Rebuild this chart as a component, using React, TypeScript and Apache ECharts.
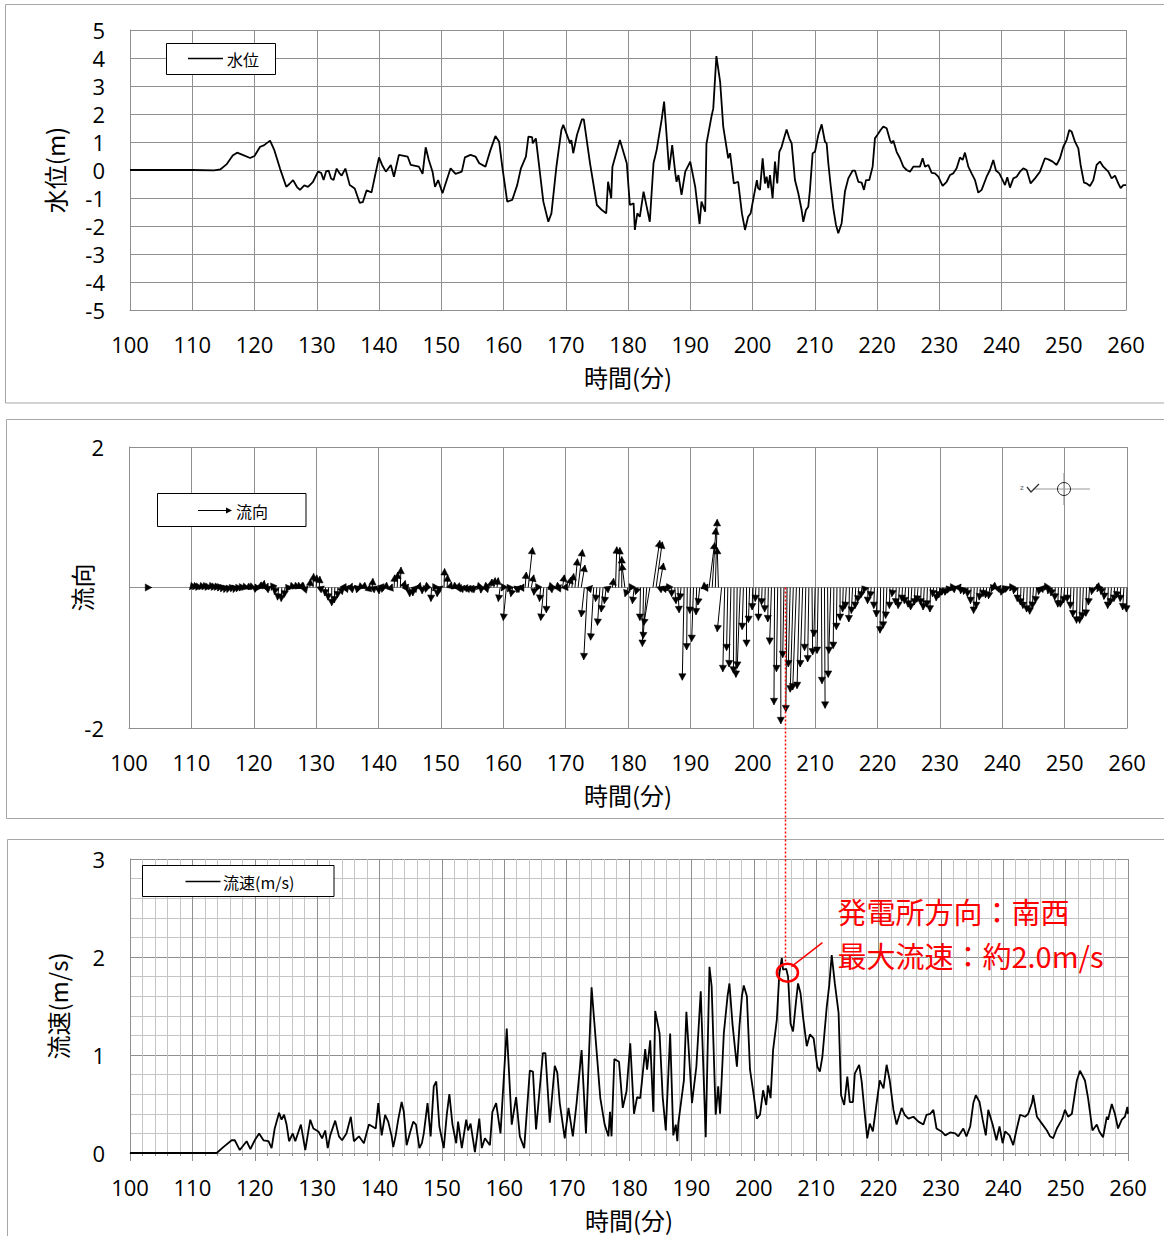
import React, { useEffect, useRef } from 'react';
import * as echarts from 'echarts';

// ---------- 水位 (water level) ----------
const levelTime = [
  100, 110, 113.5, 114.5, 115.5, 116.5, 117.2, 118, 119.3, 120, 120.9, 121.5, 122.5, 123.2, 124.1, 125.1, 125.6, 126.2, 126.8, 127.3,
  128, 128.6, 129.4, 130.2, 130.7, 131.1, 131.5, 131.9, 132.3, 132.7, 133.2, 133.6, 134, 134.6, 135.3, 136.1, 136.9, 137.4, 138, 138.8, 139.3,
  140, 140.5, 141.1, 141.9, 142.4, 143.2, 144.6, 145.1, 146.4, 147, 147.5, 148, 148.6, 149, 149.5, 150.2, 150.7, 151.5, 152.3, 153.3,
  153.8, 154.7, 155.5, 156.1, 157.1, 157.9, 158.7, 159.3, 159.8, 160.6, 161.4, 162.2, 162.8, 163.6, 164, 164.6, 164.7, 165.2, 166.4, 167.2,
  167.7, 168.5, 169.3, 169.6, 170.1, 170.7, 170.9, 171.2, 171.8, 172.6, 172.9, 173.9, 175, 175.8, 176.5, 176.8, 177.3, 177.5, 178.7, 179.8,
  180.3, 180.9, 181.1, 181.5, 181.9, 182.5, 183, 183.5, 184.1, 184.6, 185.4, 185.8, 186.1, 186.6, 187.1, 187.6, 187.8, 188.1, 188.6, 189.2,
  190, 190.8, 191.5, 191.8, 192.4, 192.6, 193.4, 193.7, 194.2, 194.8, 195.3, 196.1, 196.4, 197, 197.7, 198.3, 198.8, 199.3, 199.7, 200.7, 200.9,
  201.2, 201.63, 202.0, 202.27, 202.54, 202.81, 203.23, 203.61, 203.98, 204.31, 204.68, 205.06, 205.48, 205.91, 206.29, 206.82, 207.36, 207.89, 208.16, 208.59,
  208.96, 209.23, 209.66, 210.04, 210.57, 211.11, 211.64, 211.91, 212.18, 212.55, 212.98, 213.41, 213.78, 214.32, 214.85, 215.39, 216.09, 216.46, 217.0, 217.53,
  217.91, 218.23, 218.76, 219.3, 219.67, 220.05, 220.58, 221.01, 221.55, 222.08, 222.35, 222.62, 223.15, 223.69, 224.23, 224.76, 225.3, 225.83, 226.37, 226.9,
  227.33, 227.71, 228.24, 228.78, 229.31, 229.85, 230.54, 231.19, 231.72, 232.26, 232.79, 233.33, 233.76, 234.13, 234.67, 235.2, 235.74, 236.27, 236.81, 237.61,
  238.15, 238.68, 239.11, 239.65, 240.18, 240.56, 240.93, 241.36, 241.9, 242.43, 242.97, 243.5, 244.04, 244.68, 245.38, 246.18, 246.98, 247.52, 248.22, 248.86,
  249.39, 249.93, 250.46, 250.89, 251.27, 251.8, 252.34, 252.71, 253.25, 253.68, 254.21, 254.75, 255.28, 255.82, 256.35, 257.16, 257.69, 258.23, 258.76, 259.14,
  259.57, 260
];
const levelValue = [
  0, 0, -0.01, 0.02, 0.2, 0.52, 0.62, 0.55, 0.43, 0.5, 0.83, 0.88, 1.05, 0.7, 0.05, -0.6, -0.5, -0.36, -0.6, -0.71,
  -0.55, -0.6, -0.42, -0.06, -0.1, -0.36, -0.05, -0.02, -0.3, -0.36, 0.05, -0.1, -0.2, 0.05, -0.54, -0.66, -1.17, -1.15, -0.73, -0.8, -0.27,
  0.45, 0.18, -0.06, 0.18, -0.24, 0.54, 0.48, 0.18, 0.12, -0.14, 0.81, 0.36, -0.06, -0.6, -0.36, -0.83, -0.48, 0.06, -0.14, -0.06,
  0.45, 0.54, 0.48, 0.24, 0.12, 0.71, 1.21, 1.01, 0.12, -1.13, -1.07, -0.54, 0.06, 0.48, 1.19, 1.17, 0.95, 1.13, -1.13, -1.85,
  -1.55, 0.12, 1.43, 1.61, 1.31, 0.95, 1.07, 0.6, 1.25, 1.81, 1.81, 0.24, -1.25, -1.43, -1.55, -0.42, -1.01, 0.12, 1.07, 0.24,
  -1.25, -1.19, -2.14, -1.55, -1.67, -0.77, -1.31, -1.85, 0.24, 0.71, 1.79, 2.44, 1.55, 0.0, 0.89, -0.12, -0.42, -0.18, -0.89, -0.06,
  0.3, -0.6, -1.93, -1.13, -1.49, 0.93, 1.9, 2.2, 4.07, 3.15, 1.55, 0.42, 0.6, -0.48, -0.42, -1.55, -2.14, -1.67, -1.55, -0.36, -0.65,
  -0.71, 0.42, -0.48, -0.24, -0.65, -0.18, -1.01, 0.3, -0.48, 0.65, 0.83, 1.13, 1.45, 1.13, 0.95, -0.36, -0.83, -1.43, -1.85, -1.43,
  -1.31, -0.71, 0.6, 0.65, 1.25, 1.63, 1.01, 0.95, 0.24, -0.54, -1.37, -1.96, -2.26, -1.9, -0.77, -0.3, -0.02, -0.02, -0.42, -0.45,
  -0.71, -0.36, -0.36, 0.12, 1.13, 1.25, 1.43, 1.55, 1.49, 1.07, 0.95, 1.05, 0.65, 0.42, 0.12, 0.0, -0.06, 0.12, 0.12, 0.12,
  0.42, 0.12, 0.18, -0.1, -0.12, -0.24, -0.57, -0.42, -0.18, -0.12, 0.06, 0.45, 0.36, 0.62, 0.12, -0.12, -0.36, -0.81, -0.71, -0.24,
  0.0, 0.36, -0.02, -0.12, -0.36, -0.54, -0.26, -0.63, -0.3, -0.24, -0.06, 0.06, 0.0, -0.48, -0.3, -0.06, 0.42, 0.38, 0.3, 0.18,
  0.42, 0.83, 1.07, 1.43, 1.37, 1.01, 0.77, 0.18, -0.45, -0.48, -0.57, -0.36, 0.18, 0.3, 0.12, -0.06, -0.3, -0.2, -0.48, -0.65,
  -0.54, -0.54
];

// ---------- 流速 (flow speed, m/s) ----------
const speedTime = [
  100, 113.9, 114.96, 116.3, 116.8, 117.6, 118.7, 119.3, 120.0, 120.7, 121.4, 122.2, 122.7, 123.2, 123.9, 124.3, 124.7, 125.1, 125.5, 126.1,
  126.5, 127.4, 128.1, 128.9, 129.4, 130.2, 130.8, 131.3, 131.7, 132.1, 132.9, 133.5, 134.0, 134.7, 135.4, 135.9, 136.7, 137.5, 138.3, 139.4, 139.8,
  140.35, 140.9, 141.4, 141.95, 142.2, 142.6, 143.0, 143.55, 143.9, 144.35, 144.9, 145.4, 145.85, 146.4, 146.8, 147.1, 147.7, 148.2, 148.7, 149.1,
  149.6, 150.3, 150.8, 151.2, 151.7, 152.3, 152.6, 153.2, 153.9, 154.2, 154.6, 155.3, 156.0, 156.4, 156.9, 157.7, 158.1, 158.7, 159.4, 160.4,
  161.2, 161.9, 162.5, 163.2, 164.1, 164.6, 165.1, 166.2, 166.6, 167.3, 168.1, 168.5, 168.9, 169.7, 170.3, 171.0, 171.6, 172.4, 173.1, 174.0,
  175.4, 176.1, 176.7, 176.95, 177.2, 177.65, 178.4, 179.0, 179.6, 180.2, 180.8, 181.3, 181.8, 182.6, 182.9, 183.4, 183.9, 184.2, 184.9, 185.4,
  185.9, 186.6, 187.1, 187.5, 187.75, 187.9, 188.8, 189.2, 190.1, 190.8, 191.5, 192.3, 192.9, 193.25, 193.9, 194.3, 194.6, 195.2, 195.8, 196.1,
  196.6, 197.3, 197.7, 198.1, 198.4, 198.9, 199.4, 200.0, 200.5,
  201.0, 201.5, 202.0, 202.3, 202.7, 203.1, 203.7, 204.1, 204.5, 204.7, 205.2, 205.5, 205.9, 206.3, 206.8, 207.1, 207.5, 207.9, 208.5, 209.0,
  209.6, 210.2, 210.6, 211.0, 211.7, 212.1, 212.5, 213.0, 213.6, 214.0, 214.5, 215.0, 215.4, 215.9, 216.2, 216.9, 217.3, 217.8, 218.2, 218.6,
  219.1, 219.7, 220.2, 220.8, 221.3, 221.8, 222.4, 222.9, 223.7, 224.2, 224.8, 225.6, 226.4, 227.2, 227.7, 228.3, 228.8, 229.3, 230.1, 230.7,
  231.5, 232.3, 232.8, 233.6, 234.1, 234.7, 235.2, 235.6, 236.2, 236.7, 237.2, 237.6, 238.3, 238.9, 239.4, 239.9, 240.3, 241.0, 241.6, 242.1,
  242.7, 243.5, 244.0, 244.6, 244.8, 245.4, 246.2, 247.0, 247.5, 248.0, 248.6, 249.4, 249.9, 250.4, 251.0, 251.8, 252.3, 253.1, 253.6, 254.3,
  255.0, 255.4, 256.0, 256.6, 256.8, 257.4, 257.9, 258.4, 259.0, 259.5, 259.9, 260.0
];
const speedValue = [
  0, 0, 0.06, 0.13, 0.13, 0.03, 0.12, 0.04, 0.13, 0.2, 0.13, 0.12, 0.05, 0.25, 0.41, 0.34, 0.39, 0.29, 0.12, 0.2,
  0.12, 0.29, 0.03, 0.34, 0.25, 0.22, 0.15, 0.23, 0.05, 0.18, 0.33, 0.17, 0.13, 0.2, 0.37, 0.12, 0.17, 0.1, 0.29, 0.25, 0.51,
  0.18, 0.39, 0.32, 0.17, 0.06, 0.18, 0.34, 0.52, 0.42, 0.08, 0.21, 0.32, 0.29, 0.05, 0.1, 0.2, 0.51, 0.17, 0.68, 0.73,
  0.27, 0.05, 0.4, 0.6, 0.29, 0.1, 0.32, 0.05, 0.34, 0.23, 0.3, 0.01, 0.35, 0.05, 0.15, 0.08, 0.42, 0.51, 0.2, 1.27,
  0.29, 0.57, 0.17, 0.05, 0.84, 0.83, 0.24, 1.02, 1.02, 0.31, 0.89, 0.82, 0.51, 0.15, 0.46, 0.17, 0.51, 1.05, 0.2, 1.69,
  0.56, 0.29, 0.17, 0.42, 0.17, 0.96, 0.93, 0.46, 0.63, 1.12, 0.4, 0.57, 0.56, 1.06, 0.85, 1.15, 0.42, 1.45, 1.22, 0.57,
  0.23, 1.22, 0.18, 0.29, 0.12, 0.3, 0.74, 1.44, 0.51, 0.88, 1.65, 0.16, 1.9, 1.7, 0.39, 0.68, 0.4, 1.22, 1.6, 1.73,
  1.31, 0.88, 1.29, 1.6, 1.71, 1.6, 0.85, 0.59, 0.35,
  0.39, 0.64, 0.49, 0.69, 0.56, 1.05, 1.36, 1.83, 1.99, 1.87, 1.88, 1.8, 1.32, 1.24, 1.56, 1.73, 1.63, 1.39, 1.09, 1.21,
  1.17, 0.88, 0.83, 0.98, 1.49, 1.71, 2.02, 1.73, 1.43, 0.59, 0.49, 0.78, 0.52, 0.52, 0.81, 0.9, 0.73, 0.4, 0.15, 0.3,
  0.22, 0.51, 0.74, 0.66, 0.9, 0.74, 0.44, 0.29, 0.46, 0.39, 0.35, 0.37, 0.32, 0.29, 0.39, 0.4, 0.44, 0.25, 0.22, 0.18,
  0.21, 0.2, 0.17, 0.25, 0.17, 0.27, 0.51, 0.59, 0.52, 0.34, 0.18, 0.44, 0.29, 0.13, 0.27, 0.1, 0.22, 0.18, 0.08, 0.23,
  0.39, 0.37, 0.4, 0.51, 0.59, 0.37, 0.3, 0.23, 0.17, 0.15, 0.25, 0.34, 0.44, 0.37, 0.4, 0.74, 0.84, 0.74, 0.56, 0.23,
  0.29, 0.22, 0.16, 0.37, 0.34, 0.5, 0.4, 0.25, 0.34, 0.37, 0.47, 0.4
];

// ---------- 流向 (flow direction vectors) ----------
// one arrow every 0.5 min from 110 min; each arrow goes from (t, 0) to (t + dx, dy)
const arrowStart = 110;
const arrowStep = 0.5;
const arrowDy = [
  -0.03, -0.03, -0.04, -0.03, -0.03, -0.04, -0.03, -0.04, -0.04, -0.05,
  -0.06, -0.07, -0.07, -0.06, -0.07, -0.06, -0.05, -0.04, -0.02, -0.03,
  0.02, 0.05, 0.08, 0.10, 0.06, 0.02, -0.04, -0.10, -0.18, -0.20,
  -0.14, -0.06, -0.03, -0.02, -0.02, -0.01, -0.02, 0.02, 0.12, 0.20,
  0.18, 0.16, 0.02, -0.12, -0.18, -0.26, -0.22, -0.15, -0.10, -0.05,
  0.03, 0.06, 0.02, 0.03, 0.01, -0.01, -0.02, 0.04, 0.13, 0.02,
  -0.09, -0.05, 0.01, -0.02, 0.05, 0.18, 0.22, 0.29, 0.10, 0.05,
  -0.13, -0.12, 0.03, 0.07, -0.09, -0.02, 0.01, -0.20, -0.05, -0.13,
  0.02, 0.27, 0.18, 0.08, -0.02, -0.01, 0.04, 0.03, 0.04, 0.03,
  0.03, 0.02, -0.03, -0.08, -0.02, 0.03, 0.12, 0.14, 0.14, -0.20,
  -0.05, -0.47, -0.06, -0.13, 0.02, 0.03, 0.05, 0.22, 0.57, 0.18,
  -0.11, -0.05, -0.20, -0.47, -0.36, -0.03, 0.02, -0.02, 0.04, 0.18,
  0.06, 0.15, 0.20, 0.41, 0.54, 0.32, -0.42, -1.03, 0.03, -0.75,
  -0.20, -0.54, -0.35, -0.23, 0.02, 0.13, 0.58, 0.57, 0.44, 0.34,
  -0.13, -0.05, -0.23, -0.10, -0.47, -0.84, -0.73, -0.54, 0.67, 0.65,
  0.35, 0.02, 0.03, -0.05, -0.13, -0.23, -0.36, -0.18, -1.32, -0.89,
  -0.37, -0.77, -0.39, -0.25, -0.02, 0.05, 0.64, 0.85, 0.97, 0.57,
  -0.63, -1.20, -0.90, -1.13, -1.22, -1.28, -1.15, -0.60, -0.84, -0.50,
  -0.32, -0.20, -0.47, -0.25, -0.35, -0.49, -0.81, -1.67, -1.20, -1.94,
  -1.00, -1.77, -1.13, -1.49, -1.46, -1.44, -1.13, -0.90, -1.06, -0.96,
  -0.70, -0.94, -1.37, -1.72, -1.28, -0.94, -0.87, -0.60, -0.47, -0.35,
  -0.30, -0.49, -0.37, -0.30, -0.21, -0.15, -0.08, -0.23, -0.15, -0.30,
  -0.42, -0.65, -0.58, -0.44, -0.30, -0.13, -0.25, -0.30, -0.20, -0.23,
  -0.28, -0.32, -0.25, -0.21, -0.25, -0.32, -0.28, -0.35, -0.13, -0.19,
  -0.15, -0.11, -0.11, -0.08, -0.05, 0.02, 0.05, -0.09, -0.10, -0.13,
  -0.23, -0.37, -0.30, -0.18, -0.13, -0.15, -0.16, -0.06, -0.02, 0.03,
  -0.11, -0.08, 0.01, -0.05, -0.09, -0.20, -0.25, -0.30, -0.35, -0.38,
  -0.30, -0.22, -0.10, 0.03, -0.04, -0.09, -0.12, -0.18, -0.28, -0.28,
  -0.22, -0.20, -0.30, -0.42, -0.51, -0.51, -0.45, -0.41, -0.25, -0.10,
  -0.01, -0.06, -0.10, -0.17, -0.30, -0.25, -0.20, -0.15, -0.20, -0.32,
  -0.35
];
const arrowDx = [
  -0.3, -0.3, -0.3, -0.3, -0.3, -0.3, -0.3, -0.3, -0.3, -0.3,
  -0.3, -0.3, -0.3, -0.2, -0.3, -0.3, -0.3, -0.4, -0.5, -0.4,
  -0.4, -0.3, 0.2, 0.2, 0.3, 0.3, -0.2, -0.2, -0.2, -0.1,
  -0.1, -0.3, -0.3, -0.3, -0.3, -0.3, 0.3, 0.2, 0.1, 0.1,
  0.1, 0.1, 0.3, -0.1, -0.1, 0.0, -0.1, -0.1, 0.2, 0.3,
  0.3, 0.3, 0.3, -0.3, 0.3, 0.3, 0.3, 0.1, 0.1, 0.3,
  0.1, 0.2, 0.3, 0.3, 0.2, 0.1, 0.1, 0.1, 0.3, 0.3,
  0.0, 0.0, 0.3, 0.2, 0.0, -0.3, 0.3, -0.1, -0.3, -0.1,
  0.3, 0.1, 0.1, 0.2, -0.3, -0.3, 0.3, 0.3, 0.3, 0.3,
  0.3, 0.3, -0.3, -0.1, -0.3, 0.3, 0.2, 0.2, 0.2, -0.3,
  -0.3, -0.5, -0.3, -0.3, -0.3, 0.3, 0.3, 0.2, 0.7, 0.4,
  -0.1, -0.3, -0.2, -0.5, -0.1, -0.3, 0.3, -0.3, 0.3, 0.3,
  0.3, 0.4, 0.3, 0.4, 0.7, 0.6, -0.5, -0.6, 0.3, -0.5,
  -0.2, -0.4, -0.3, -0.3, 0.3, 0.2, 0.2, 0.2, 0.0, -0.5,
  -0.5, -0.3, -0.3, -0.3, -0.1, -0.2, -0.6, -1.0, 1.1, 1.0,
  0.7, 0.3, 0.3, -0.3, 0.0, 0.2, 0.2, -0.2, -0.3, -0.1,
  -0.1, -0.3, -0.1, -0.3, -0.3, 0.3, 0.9, 0.6, 0.3, -0.2,
  -0.7, -0.3, -0.2, -0.3, -0.1, -0.2, -0.5, -0.2, 0.0, -0.2,
  -0.1, -0.1, -0.1, -0.1, -0.1, -0.1, -0.3, -0.1, -0.2, 0.0,
  -0.2, -0.2, -0.3, -0.5, -0.6, -0.4, -0.4, -0.2, -0.2, 0.1,
  -0.2, -0.2, 0.1, 0.1, 0.1, -0.3, -0.1, -0.1, 0.0, -0.1,
  -0.2, -0.1, -0.2, -0.1, -0.2, -0.2, -0.3, -0.1, -0.2, -0.1,
  -0.2, -0.1, -0.1, -0.2, -0.1, -0.2, -0.1, -0.2, -0.1, -0.2,
  -0.1, -0.2, -0.1, -0.2, -0.1, -0.2, -0.1, -0.1, -0.2, -0.1,
  -0.2, -0.2, -0.2, -0.3, -0.3, 0.3, 0.4, -0.2, -0.2, -0.1,
  -0.1, -0.1, -0.2, -0.2, -0.1, -0.2, -0.2, -0.3, 0.3, 0.3,
  -0.2, -0.3, 0.3, -0.3, -0.2, -0.1, -0.1, -0.2, -0.1, -0.1,
  -0.2, -0.2, -0.2, 0.3, -0.3, -0.2, -0.2, -0.1, -0.1, -0.2,
  -0.2, -0.1, -0.1, -0.2, -0.1, -0.1, -0.2, -0.1, -0.2, -0.2,
  -0.3, -0.3, -0.2, -0.2, -0.1, -0.2, -0.1, -0.2, -0.1, -0.2,
  -0.1
];
// lone early arrow [t, dx, dy]
const earlyArrow = [102.9, 0.75, 0];

// peak annotation (流速最大)
const peakTime = 205.4;
const peakSpeed = 1.84;
const annotationLines = ['発電所方向：南西', '最大流速：約2.0m/s'];

const NUM_FONT = 'Open Sans';
const JP_FONT = 'Noto Sans CJK JP';
const GRID_COLOR = '#8f8f8f';
const MINOR_COLOR = '#c4c4c4';

function xAxisFor(gi: number, withMinor: boolean) {
  return {
    type: 'value',
    gridIndex: gi,
    min: 100,
    max: 260,
    interval: 10,
    name: '時間(分)',
    nameLocation: 'middle',
    nameGap: 54,
    nameMoveOverlap: false,
    nameTextStyle: { fontSize: 24, lineHeight: 24, fontFamily: JP_FONT, color: '#000' },
    axisLine: { show: true, onZero: false, lineStyle: { color: GRID_COLOR, width: 1 } },
    axisTick: withMinor
      ? { show: true, length: 8, inside: false, lineStyle: { color: GRID_COLOR } }
      : { show: false },
    minorTick: withMinor
      ? { show: true, splitNumber: 5, length: 3, lineStyle: { color: GRID_COLOR } }
      : { show: false },
    minorSplitLine: { show: withMinor, lineStyle: { color: MINOR_COLOR, width: 1 } },
    axisLabel: { color: '#000', fontSize: 22, lineHeight: 22, fontFamily: NUM_FONT, margin: 23 },
    splitLine: { show: true, lineStyle: { color: GRID_COLOR, width: 1 } },
  };
}

function yName(name: string, gap: number) {
  return {
    name,
    nameLocation: 'middle',
    nameGap: gap,
    nameRotate: 90,
    nameMoveOverlap: false,
    nameTextStyle: { fontSize: 24, fontFamily: JP_FONT, color: '#000' },
  };
}

export default function App() {
  const ref = useRef<HTMLDivElement>(null);

  useEffect(() => {
    if (!ref.current) return;
    const chart = echarts.init(ref.current, null, { renderer: 'svg' });

    const levelData = levelTime.map((t, i) => [t, levelValue[i]]);
    const speedData = speedTime.map((t, i) => [t, speedValue[i]]);
    const arrowData = [earlyArrow].concat(
      arrowDy.map((dy, i) => [arrowStart + i * arrowStep, arrowDx[i], dy])
    );

    const option: any = {
      animation: false,
      backgroundColor: '#ffffff',
      grid: [
        { left: 130, top: 30, width: 996, height: 280 },
        { left: 129, top: 447, width: 998, height: 281 },
        { left: 130, top: 859, width: 998, height: 294 },
      ],
      xAxis: [xAxisFor(0, false), xAxisFor(1, false), xAxisFor(2, true)],
      yAxis: [
        {
          type: 'value', gridIndex: 0, min: -5, max: 5, interval: 1,
          ...yName('水位(m)', 64),
          axisLine: { show: true, lineStyle: { color: GRID_COLOR } },
          axisTick: { show: false },
          axisLabel: { color: '#000', fontSize: 22, fontFamily: NUM_FONT, margin: 25 },
          splitLine: { show: true, lineStyle: { color: GRID_COLOR, width: 1 } },
        },
        {
          type: 'value', gridIndex: 1, min: -2, max: 2, interval: 2,
          ...yName('流向', 36),
          axisLine: { show: true, lineStyle: { color: GRID_COLOR } },
          axisTick: { show: false },
          axisLabel: {
            color: '#000', fontSize: 22, fontFamily: NUM_FONT, margin: 25,
            formatter: (v: number) => (v === 0 ? '' : String(v)),
          },
          splitLine: { show: true, lineStyle: { color: GRID_COLOR, width: 1 } },
        },
        {
          type: 'value', gridIndex: 2, min: 0, max: 3, interval: 1,
          ...yName('流速(m/s)', 61),
          axisLine: { show: true, lineStyle: { color: GRID_COLOR } },
          axisTick: { show: false },
          minorTick: { show: false, splitNumber: 5 },
          minorSplitLine: { show: true, lineStyle: { color: MINOR_COLOR, width: 1 } },
          axisLabel: { color: '#000', fontSize: 22, fontFamily: NUM_FONT, margin: 25 },
          splitLine: { show: true, lineStyle: { color: GRID_COLOR, width: 1 } },
        },
      ],
      series: [
        {
          name: '水位', type: 'line', xAxisIndex: 0, yAxisIndex: 0,
          data: levelData, showSymbol: false, symbol: 'none',
          lineStyle: { color: '#000', width: 1.8 }, z: 5,
        },
        {
          name: '流向', type: 'custom', xAxisIndex: 1, yAxisIndex: 1,
          dimensions: ['t', 'dx', 'dy'],
          encode: { x: 0, y: 2 },
          data: arrowData,
          z: 5,
          renderItem: (params: any, api: any) => {
            const t = api.value(0);
            const dx = api.value(1);
            const dy = api.value(2);
            const p0 = api.coord([t, 0]);
            const p1 = api.coord([t + dx, dy]);
            let vx = p1[0] - p0[0];
            let vy = p1[1] - p0[1];
            let len = Math.hypot(vx, vy);
            if (len < 1e-6) { vx = 1; vy = 0; len = 1; }
            const ux = vx / len, uy = vy / len;
            const hl = 6.5, hw = 3.6;
            const bx = p1[0] - ux * hl, by = p1[1] - uy * hl;
            return {
              type: 'group',
              children: [
                {
                  type: 'line',
                  shape: { x1: p0[0], y1: p0[1], x2: p1[0], y2: p1[1] },
                  style: { stroke: '#000', lineWidth: 1 },
                },
                {
                  type: 'polygon',
                  shape: { points: [[p1[0], p1[1]], [bx - uy * hw, by + ux * hw], [bx + uy * hw, by - ux * hw]] },
                  style: { fill: '#000', stroke: '#000', lineWidth: 0.5 },
                },
              ],
            };
          },
        },
        {
          name: '流速(m/s)', type: 'line', xAxisIndex: 2, yAxisIndex: 2,
          data: speedData, showSymbol: false, symbol: 'none',
          lineStyle: { color: '#000', width: 1.8 }, z: 5,
        },
      ],
    };
    chart.setOption(option);

    // annotation & decorations
    const top = chart.convertToPixel({ gridIndex: 1 }, [peakTime - 0.15, 0]) as number[];
    const peak = chart.convertToPixel({ gridIndex: 2 }, [peakTime, peakSpeed]) as number[];
    const cx = peak[0], cy = peak[1];

    const legendBox = (x: number, y: number, w: number, h: number) => ({
      type: 'rect', z: 100,
      shape: { x, y, width: w, height: h },
      style: { fill: '#fff', stroke: '#000', lineWidth: 1 },
    });
    const legendText = (x: number, y: number, text: string) => ({
      type: 'text', z: 101, x, y,
      style: { text, fontSize: 16, fontFamily: JP_FONT, fill: '#000', verticalAlign: 'middle', align: 'left' },
    });

    const graphic: any[] = [
      // panel frames
      { type: 'rect', z: 1, shape: { x: 5.5, y: 4.5, width: 1170, height: 398.5 }, style: { fill: 'none', stroke: '#a6a6a6', lineWidth: 1 } },
      { type: 'rect', z: 1, shape: { x: 6.5, y: 419.5, width: 1170, height: 399 }, style: { fill: 'none', stroke: '#a6a6a6', lineWidth: 1 } },
      { type: 'rect', z: 1, shape: { x: 7.5, y: 839.5, width: 1170, height: 420 }, style: { fill: 'none', stroke: '#a6a6a6', lineWidth: 1 } },
      // legend 1
      legendBox(166.5, 43.5, 109, 31),
      { type: 'line', z: 101, shape: { x1: 188, y1: 58.5, x2: 223, y2: 58.5 }, style: { stroke: '#000', lineWidth: 1.5 } },
      legendText(227, 59, '水位'),
      // legend 2
      legendBox(157.5, 493.5, 148.5, 33),
      { type: 'line', z: 101, shape: { x1: 198, y1: 510.5, x2: 227, y2: 510.5 }, style: { stroke: '#000', lineWidth: 1 } },
      { type: 'polygon', z: 101, shape: { points: [[232, 510.5], [226, 507.5], [226, 513.5]] }, style: { fill: '#000' } },
      legendText(236, 510.5, '流向'),
      // legend 3
      legendBox(142.5, 865.5, 191.5, 31),
      { type: 'line', z: 101, shape: { x1: 185.5, y1: 881.5, x2: 220.5, y2: 881.5 }, style: { stroke: '#000', lineWidth: 1.5 } },
      legendText(223, 881.5, '流速(m/s)'),
      // compass symbol in panel 2
      { type: 'line', z: 50, shape: { x1: 1033, y1: 489, x2: 1090, y2: 489 }, style: { stroke: '#9a9a9a', lineWidth: 1.2 } },
      { type: 'line', z: 50, shape: { x1: 1064, y1: 473, x2: 1064, y2: 505 }, style: { stroke: '#9a9a9a', lineWidth: 1.2 } },
      { type: 'circle', z: 51, shape: { cx: 1064, cy: 489, r: 6.5 }, style: { fill: 'none', stroke: '#222', lineWidth: 1 } },
      { type: 'polyline', z: 51, shape: { points: [[1027, 487], [1031, 492], [1039, 484]] }, style: { stroke: '#333', lineWidth: 1.3, fill: 'none' } },
      { type: 'text', z: 51, x: 1020, y: 488, style: { text: 'z', fontSize: 7, fontFamily: 'DejaVu Sans', fill: '#555', verticalAlign: 'middle' } },
      // red dotted guide line across panels
      {
        type: 'line', z: 120,
        shape: { x1: top[0], y1: top[1], x2: top[0], y2: cy - 9 },
        style: { stroke: '#ff0000', lineWidth: 1.5, lineDash: [2, 2] },
      },
      // circle on peak
      {
        type: 'ellipse', z: 120,
        shape: { cx, cy, rx: 10.5, ry: 9 },
        style: { fill: 'none', stroke: '#ff0000', lineWidth: 2.6 },
      },
      // leader line
      {
        type: 'line', z: 120,
        shape: { x1: cx + 4, y1: cy - 6, x2: cx + 35, y2: cy - 30 },
        style: { stroke: '#ff0000', lineWidth: 1.5 },
      },
      {
        type: 'text', z: 120, x: cx + 50, y: cy - 62,
        style: { text: annotationLines[0], fontSize: 29, fontFamily: JP_FONT, fill: '#ff0000', verticalAlign: 'middle', align: 'left' },
      },
      {
        type: 'text', z: 120, x: cx + 50, y: cy - 18,
        style: { text: annotationLines[1], fontSize: 29, fontFamily: JP_FONT, fill: '#ff0000', verticalAlign: 'middle', align: 'left' },
      },
    ];
    chart.setOption({ graphic });

    return () => {
      chart.dispose();
    };
  }, []);

  return (
    <div
      ref={ref}
      style={{ position: 'absolute', left: 0, top: 0, width: 1164, height: 1236, background: '#fff' }}
    />
  );
}
